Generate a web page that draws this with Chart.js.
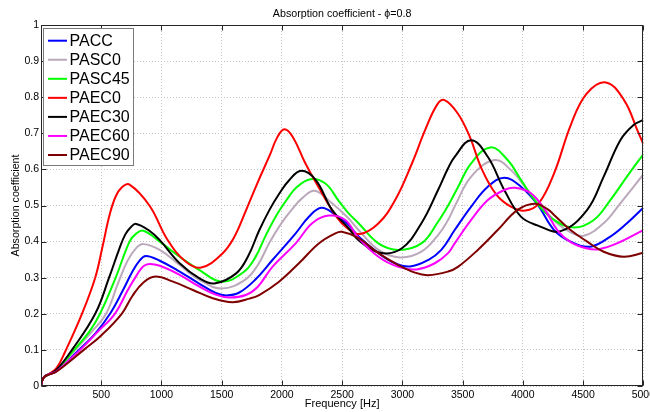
<!DOCTYPE html>
<html>
<head>
<meta charset="utf-8">
<script src="https://cdn.jsdelivr.net/npm/chart.js@4.4.1/dist/chart.umd.min.js"></script>
<style>
    html, body { margin: 0; padding: 0; overflow: hidden; background: #fff; }
    #wrap { width: 658px; height: 412px; }
</style>
</head>
<body>
<div id="wrap"><canvas id="absChart" width="658" height="412"></canvas></div>
<script>
/* ======================
   DATA
====================== */
const xTicks = [500, 1000, 1500, 2000, 2500, 3000, 3500, 4000, 4500, 5000];
const yTicks = [0, 0.1, 0.2, 0.3, 0.4, 0.5, 0.6, 0.7, 0.8, 0.9, 1];

const seriesNames = ["PACC", "PASC0", "PASC45", "PAEC0", "PAEC30", "PAEC60", "PAEC90"];
const seriesColors = ["#0000ff", "#bba9bb", "#00ff00", "#ff0000", "#000000", "#ff00ff", "#7f0000"];

// PACC
const paccHz = [0, 10, 30, 70, 130, 315, 450, 573, 680, 760, 820, 870, 986, 1151, 1316, 1450, 1540, 1646, 1780, 1921, 2114, 2224, 2328, 2444, 2554, 2636, 2801, 2939, 3063, 3214, 3323, 3434, 3571, 3709, 3846, 3984, 4121, 4259, 4396, 4561, 4726, 4864, 5000];
const paccAbs = [0, 0.015, 0.026, 0.033, 0.042, 0.1, 0.145, 0.2, 0.265, 0.318, 0.348, 0.36, 0.347, 0.317, 0.283, 0.258, 0.251, 0.259, 0.295, 0.349, 0.423, 0.469, 0.494, 0.474, 0.446, 0.414, 0.368, 0.34, 0.331, 0.349, 0.377, 0.432, 0.497, 0.552, 0.577, 0.552, 0.503, 0.432, 0.40, 0.386, 0.414, 0.451, 0.494];

// PASC0
const pasc0Hz = [0, 10, 30, 70, 130, 285, 420, 540, 640, 720, 790, 850, 986, 1151, 1316, 1500, 1693, 1800, 1896, 1992, 2078, 2164, 2273, 2416, 2554, 2636, 2801, 2980, 3158, 3296, 3379, 3434, 3571, 3764, 3901, 4039, 4177, 4286, 4400, 4507, 4671, 4809, 5000];
const pasc0Abs = [0, 0.015, 0.026, 0.033, 0.043, 0.1, 0.15, 0.2, 0.285, 0.348, 0.382, 0.393, 0.377, 0.335, 0.294, 0.27, 0.294, 0.335, 0.397, 0.449, 0.487, 0.519, 0.541, 0.506, 0.464, 0.432, 0.377, 0.356, 0.372, 0.418, 0.46, 0.497, 0.58, 0.626, 0.598, 0.543, 0.49, 0.45, 0.425, 0.416, 0.451, 0.506, 0.586];

// PASC45
const pasc45Hz = [0, 10, 30, 70, 130, 275, 400, 490, 620, 735, 790, 850, 986, 1151, 1316, 1500, 1680, 1780, 1870, 1960, 2040, 2120, 2237, 2361, 2471, 2554, 2636, 2801, 2966, 3158, 3296, 3380, 3460, 3571, 3731, 3874, 3984, 4121, 4259, 4424, 4589, 4726, 4864, 5000];
const pasc45Abs = [0, 0.015, 0.026, 0.033, 0.044, 0.1, 0.15, 0.2, 0.3, 0.4, 0.422, 0.43, 0.40, 0.358, 0.321, 0.289, 0.315, 0.357, 0.42, 0.476, 0.516, 0.55, 0.573, 0.561, 0.513, 0.478, 0.451, 0.395, 0.377, 0.395, 0.455, 0.50, 0.55, 0.617, 0.661, 0.626, 0.571, 0.505, 0.46, 0.439, 0.46, 0.515, 0.58, 0.642];

// PAEC0
const paec0Hz = [0, 10, 30, 70, 130, 200, 340, 450, 510, 570, 620, 670, 735, 900, 1050, 1200, 1330, 1500, 1600, 1700, 1800, 1900, 1960, 2020, 2090, 2190, 2300, 2450, 2550, 2650, 2800, 2940, 3080, 3190, 3290, 3350, 3460, 3560, 3660, 3780, 3900, 4020, 4130, 4260, 4400, 4530, 4690, 4840, 4950, 5000];
const paec0Abs = [0, 0.015, 0.026, 0.034, 0.05, 0.095, 0.2, 0.3, 0.385, 0.475, 0.525, 0.55, 0.558, 0.50, 0.405, 0.345, 0.328, 0.365, 0.41, 0.485, 0.565, 0.64, 0.688, 0.711, 0.69, 0.62, 0.553, 0.47, 0.435, 0.421, 0.45, 0.515, 0.617, 0.71, 0.78, 0.792, 0.755, 0.69, 0.60, 0.53, 0.497, 0.486, 0.505, 0.59, 0.725, 0.81, 0.841, 0.792, 0.709, 0.67];

// PAEC30
const paec30Hz = [0, 10, 30, 70, 130, 257, 450, 565, 650, 700, 745, 790, 900, 986, 1151, 1316, 1440, 1620, 1720, 1810, 1900, 1980, 2060, 2160, 2280, 2416, 2554, 2636, 2815, 2993, 3158, 3296, 3379, 3434, 3571, 3709, 3846, 3984, 4121, 4314, 4534, 4671, 4809, 4919, 5000];
const paec30Abs = [0, 0.015, 0.026, 0.033, 0.045, 0.1, 0.2, 0.3, 0.38, 0.42, 0.44, 0.449, 0.43, 0.404, 0.34, 0.298, 0.284, 0.312, 0.36, 0.43, 0.49, 0.534, 0.57, 0.596, 0.571, 0.488, 0.437, 0.404, 0.369, 0.381, 0.451, 0.543, 0.603, 0.635, 0.681, 0.635, 0.543, 0.469, 0.445, 0.429, 0.488, 0.58, 0.681, 0.723, 0.737];

// PAEC60
const paec60Hz = [0, 10, 30, 70, 130, 325, 470, 613, 720, 800, 850, 900, 986, 1151, 1316, 1450, 1563, 1700, 1800, 1921, 2114, 2251, 2389, 2526, 2636, 2801, 2966, 3118, 3269, 3379, 3434, 3571, 3709, 3846, 3934, 4066, 4180, 4290, 4400, 4534, 4631, 4781, 5000];
const paec60Abs = [0, 0.015, 0.026, 0.033, 0.041, 0.1, 0.15, 0.2, 0.265, 0.31, 0.332, 0.338, 0.333, 0.308, 0.275, 0.253, 0.245, 0.252, 0.275, 0.33, 0.395, 0.451, 0.472, 0.46, 0.41, 0.358, 0.33, 0.323, 0.34, 0.368, 0.395, 0.46, 0.515, 0.543, 0.549, 0.534, 0.49, 0.43, 0.398, 0.381, 0.379, 0.395, 0.432];

// PAEC90
const paec90Hz = [0, 10, 30, 70, 130, 355, 500, 670, 760, 850, 950, 1096, 1261, 1426, 1591, 1730, 1811, 1976, 2141, 2306, 2444, 2498, 2636, 2801, 2966, 3104, 3214, 3379, 3461, 3626, 3791, 3956, 4100, 4204, 4259, 4396, 4534, 4671, 4837, 5000];
const paec90Abs = [0, 0.015, 0.026, 0.032, 0.04, 0.1, 0.14, 0.2, 0.25, 0.287, 0.303, 0.289, 0.266, 0.243, 0.232, 0.242, 0.252, 0.289, 0.34, 0.395, 0.423, 0.427, 0.41, 0.368, 0.335, 0.314, 0.307, 0.317, 0.33, 0.377, 0.432, 0.488, 0.505, 0.49, 0.474, 0.432, 0.40, 0.372, 0.358, 0.369];

const seriesHz = [paccHz, pasc0Hz, pasc45Hz, paec0Hz, paec30Hz, paec60Hz, paec90Hz];
const seriesAbs = [paccAbs, pasc0Abs, pasc45Abs, paec0Abs, paec30Abs, paec60Abs, paec90Abs];

const FONT = "'Liberation Sans', Arial, Helvetica, sans-serif";

/* ======================
   MATLAB STYLE BOX + LEGEND
====================== */
const frameAndLegend = {
    id: "frameAndLegend",
    afterDraw(chart) {
        const { ctx, chartArea: a, scales } = chart;
        ctx.save();

        // axes box with inward ticks
        const L = Math.round(a.left) + 0.5, R = Math.round(a.right) - 0.5;
        const T = Math.round(a.top) + 0.5, B = Math.round(a.bottom) - 0.5;
        ctx.strokeStyle = "#262626";
        ctx.lineWidth = 1;
        ctx.strokeRect(L, T, R - L, B - T);
        ctx.beginPath();
        xTicks.forEach(v => {
            const x = Math.round(scales.x.getPixelForValue(v)) + 0.5;
            ctx.moveTo(x, B); ctx.lineTo(x, B - 5);
            ctx.moveTo(x, T); ctx.lineTo(x, T + 5);
        });
        yTicks.forEach(v => {
            const y = Math.round(scales.y.getPixelForValue(v)) + 0.5;
            ctx.moveTo(L, y); ctx.lineTo(L + 5, y);
            ctx.moveTo(R, y); ctx.lineTo(R - 5, y);
        });
        ctx.stroke();

        // legend
        const bx = L + 2, by = T + 3;
        ctx.fillStyle = "#fff";
        ctx.fillRect(bx, by, 90, 137);
        ctx.strokeStyle = "#7a7a7a";
        ctx.strokeRect(bx, by, 90, 137);
        ctx.font = "16px " + FONT;
        ctx.textBaseline = "middle";
        ctx.textAlign = "left";
        seriesNames.forEach((name, i) => {
            const y = a.top + 15.7 + i * 19.05;
            ctx.strokeStyle = seriesColors[i];
            ctx.lineWidth = 2;
            ctx.beginPath();
            ctx.moveTo(a.left + 7, y);
            ctx.lineTo(a.left + 26, y);
            ctx.stroke();
            ctx.fillStyle = "#000";
            ctx.fillText(name, a.left + 28.5, y + 0.5);
        });

        ctx.restore();
    }
};

/* ======================
   CHART
====================== */
const tickFont = { family: FONT, size: 10.5 };
const titleFont = { family: FONT, size: 10.7, weight: "normal" };

new Chart(document.getElementById("absChart"), {
    type: "line",
    data: {
        datasets: seriesNames.map((name, i) => ({
            label: name,
            data: seriesHz[i].map((f, k) => ({ x: f, y: seriesAbs[i][k] })),
            borderColor: seriesColors[i],
            backgroundColor: seriesColors[i],
            borderWidth: 2,
            pointRadius: 0,
            fill: false,
            tension: 0.4,
            order: seriesNames.length - i
        }))
    },
    options: {
        responsive: false,
        animation: false,
        layout: { padding: 0 },
        plugins: {
            legend: { display: false },
            tooltip: { enabled: false },
            title: {
                display: true,
                text: "Absorption coefficient - \u03d5=0.8",
                fullSize: false,
                color: "#000",
                font: titleFont,
                padding: { top: 7.5, bottom: 4.66 }
            }
        },
        scales: {
            x: {
                type: "linear",
                min: 0,
                max: 5000,
                afterBuildTicks: s => { s.ticks = xTicks.map(v => ({ value: v })); },
                afterFit: s => { s.height = 26; },
                ticks: {
                    color: "#000",
                    font: tickFont,
                    padding: 3,
                    maxRotation: 0,
                    autoSkip: false,
                    callback: v => String(v)
                },
                grid: { color: "#c4c4c4", drawTicks: false },
                border: { display: false, dash: [1, 2] },
                title: {
                    display: true,
                    text: "Frequency [Hz]",
                    color: "#000",
                    font: { family: FONT, size: 11 },
                    padding: { top: 0, bottom: 1.5 }
                }
            },
            y: {
                type: "linear",
                min: 0,
                max: 1,
                afterBuildTicks: s => { s.ticks = yTicks.map(v => ({ value: v })); },
                afterFit: s => { s.width = 41; },
                ticks: {
                    color: "#000",
                    font: tickFont,
                    padding: 2,
                    autoSkip: false,
                    callback: v => String(v)
                },
                grid: { color: "#c4c4c4", drawTicks: false },
                border: { display: false, dash: [1, 2] },
                title: {
                    display: true,
                    text: "Absorption coefficient",
                    color: "#000",
                    font: titleFont,
                    padding: { top: 10, bottom: 0 }
                }
            }
        }
    },
    plugins: [frameAndLegend]
});
</script>
</body>
</html>
